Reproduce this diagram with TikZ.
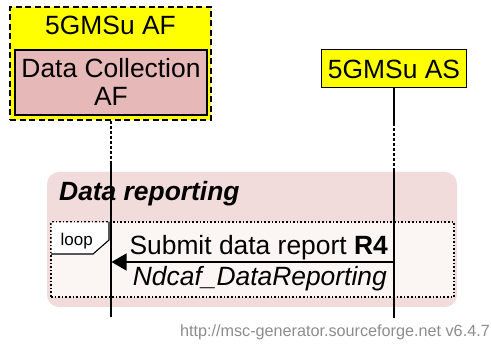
\documentclass[tikz,border=0pt]{standalone}
\usepackage{fontspec}
\setmainfont{Liberation Sans}
\usetikzlibrary{arrows.meta}
\definecolor{entyellow}{RGB}{255,255,0}
\definecolor{dcpink}{RGB}{230,184,183}
\definecolor{grpfill}{RGB}{242,220,219}
\definecolor{loopfill}{RGB}{251,245,244}
\definecolor{footgray}{RGB}{140,140,140}
\begin{document}
\begin{tikzpicture}[x=1pt,y=-1pt,
  big/.style={font=\fontsize{26.4}{28.7}\selectfont, inner sep=0pt},
  entouter/.style={draw, fill=entyellow, line width=1.2pt, dash pattern=on 6pt off 3.5pt, inner sep=0pt},
  entbox/.style={draw, fill=entyellow, line width=1.2pt, inner sep=0pt},
  subbox/.style={draw, fill=dcpink, line width=1.2pt, inner sep=0pt},
  lifesolid/.style={line width=1.4pt},
  lifedash/.style={line width=1.4pt, dash pattern=on 3pt off 2pt},
  grpbox/.style={fill=grpfill, rounded corners=12pt},
  loopbox/.style={fill=loopfill, draw, line width=1.1pt, dash pattern=on 1.6pt off 2pt},
  msg/.style={line width=1.2pt, -{Triangle[length=15pt,width=17pt]}},
]
\useasboundingbox (0,0) rectangle (491,344);

% group box and loop box
\node[grpbox, minimum width=410pt, minimum height=135pt, inner sep=0pt] (grp) at (252,239.5) {};
\node[big, anchor=base west] (grptitle) at (59,200.7) {\textbf{\textit{Data reporting}}};
\node[loopbox, minimum width=403pt, minimum height=75pt, inner sep=0pt] (loop) at (252.5,259.5) {};
\fill[white] (51.5,222.5) -- (109,222.5) -- (109,240) -- (93,254) -- (51.5,254) -- cycle;
\coordinate (tagtop) at (109,222);
\coordinate (tagmid) at (109,240);
\coordinate (tagbot) at (93,254);
\coordinate (tagleft) at (51,254);
\draw[line width=1.1pt] (tagtop) -- (tagmid) -- (tagbot) -- (tagleft);
\node[font=\fontsize{17}{19}\selectfont, anchor=base west, inner sep=0pt] (looplbl) at (60.5,246) {loop};

% entities
\node[entouter, minimum width=201pt, minimum height=113pt] (af) at (110.5,63.5) {};
\node[big, anchor=base] (aftitle) at (110.5,35) {5GMSu AF};
\node[subbox, minimum width=192pt, minimum height=65pt] (dcaf) at (111,82.5) {};
\node[big, anchor=base] (dcaf1) at (111,77.3) {Data Collection};
\node[big, anchor=base] (dcaf2) at (111,106) {AF};
\node[entbox, minimum width=145pt, minimum height=38pt] (as) at (394,68.3) {};
\node[big, anchor=base] (astitle) at (394,78.3) {5GMSu AS};

% lifelines
\coordinate (aftop) at (111,121);
\coordinate (afbrk) at (111,162);
\coordinate (afend) at (111,317);
\draw[lifedash] (aftop) -- (afbrk);
\draw[lifesolid] (afbrk) -- (afend);
\coordinate (astop) at (394,87.3);
\coordinate (asbrk1) at (394,123);
\coordinate (asbrk2) at (394,170);
\coordinate (asend) at (394,318);
\draw[lifesolid] (astop) -- (asbrk1);
\draw[lifedash] (asbrk1) -- (asbrk2);
\draw[lifesolid] (asbrk2) -- (asend);

% message
\coordinate (r4s) at (394,262);
\coordinate (r4e) at (111.5,262);
\draw[msg] (r4s) -- (r4e);
\node[big, anchor=base east] (r4lbl) at (388,255) {Submit data report \textbf{R4}};
\node[big, anchor=base east] (r4sub) at (387,286) {\textit{Ndcaf\_DataReporting}};

% footer
\node[font=\fontsize{16.2}{18}\selectfont, text=footgray, anchor=base east, inner sep=0pt] (foot) at (490,337) {http://msc-generator.sourceforge.net v6.4.7};
\end{tikzpicture}
\end{document}
